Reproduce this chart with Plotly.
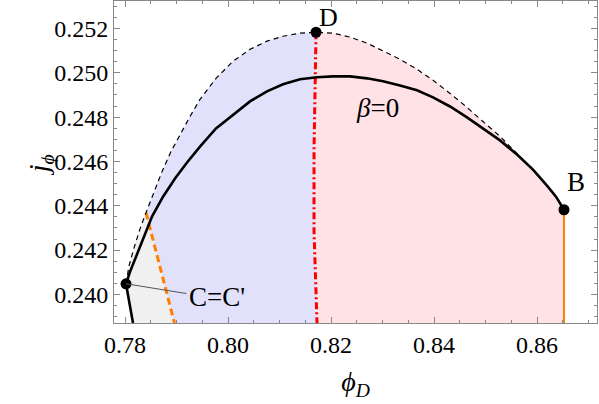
import plotly.graph_objects as go

# beta = 0 curve (solid)
beta0_x = [0.78155, 0.78019, 0.78097, 0.78291, 0.78524, 0.78738, 0.78971, 0.79204,
           0.79456, 0.79767, 0.80097, 0.80427, 0.80757, 0.81068, 0.81398, 0.81728,
           0.82039, 0.82369, 0.82699, 0.83010, 0.83340, 0.83670, 0.83981, 0.84311,
           0.84641, 0.84951, 0.85282, 0.85612, 0.85922, 0.86194, 0.86369, 0.86524]
beta0_y = [0.23871, 0.24048, 0.24102, 0.24215, 0.24351, 0.24441, 0.24523, 0.24595,
           0.24667, 0.24749, 0.24812, 0.24871, 0.24916, 0.24948, 0.24971, 0.24980,
           0.24984, 0.24984, 0.24975, 0.24962, 0.24943, 0.24921, 0.24889, 0.24848,
           0.24799, 0.24749, 0.24695, 0.24631, 0.24563, 0.24491, 0.24441, 0.24382]

# upper envelope (thin dashed)
env_x = [0.78019, 0.78078, 0.78175, 0.78291, 0.78408, 0.78563, 0.78718, 0.78893,
         0.79068, 0.79262, 0.79456, 0.79767, 0.80097, 0.80427, 0.80757, 0.81068,
         0.81398, 0.81709, 0.82039, 0.82369, 0.82699, 0.83087, 0.83340, 0.83670,
         0.83981, 0.84311, 0.84641, 0.84951, 0.85282, 0.85534, 0.85709]
env_y = [0.24048, 0.24129, 0.24210, 0.24296, 0.24369, 0.24464, 0.24554, 0.24645,
         0.24722, 0.24803, 0.24880, 0.24975, 0.25052, 0.25106, 0.25143, 0.25165,
         0.25179, 0.25183, 0.25179, 0.25161, 0.25134, 0.25088, 0.25061, 0.25016,
         0.24966, 0.24907, 0.24844, 0.24780, 0.24713, 0.24654, 0.24613]

# orange dashed boundary
orange_x = [0.78408, 0.78960]
orange_y = [0.24369, 0.23871]

# red dash-dot boundary
red_x = [0.81709, 0.81670, 0.81670, 0.81728]
red_y = [0.25183, 0.24649, 0.24287, 0.23871]

# vertical line below B
bline_x = [0.86524, 0.86524]
bline_y = [0.24382, 0.23871]

pts_x = [0.78019, 0.81709, 0.86524]   # C, D, B
pts_y = [0.24048, 0.25183, 0.24382]

xtick_vals = [0.78, 0.80, 0.82, 0.84, 0.86]
ytick_vals = [0.240, 0.242, 0.244, 0.246, 0.248, 0.250, 0.252]

FONT = "Liberation Serif"
BLUE_FILL = "#e1e1fb"
PINK_FILL = "#ffe2e5"
GRAY_FILL = "#f0f0f0"
ORANGE = "#ff8000"
RED = "#ff0000"

fig = go.Figure()

# --- filled regions ---------------------------------------------------------
i_top = env_x.index(orange_x[0])
i_d = env_x.index(red_x[0])
n_solid_below_c = 2  # bottom point and C

gray_x = beta0_x[:n_solid_below_c] + env_x[1:i_top + 1] + orange_x[1:]
gray_y = beta0_y[:n_solid_below_c] + env_y[1:i_top + 1] + orange_y[1:]

blue_x = env_x[i_top:i_d + 1] + red_x[1:] + orange_x[::-1]
blue_y = env_y[i_top:i_d + 1] + red_y[1:] + orange_y[::-1]

tail = [k for k, v in enumerate(beta0_x) if v > env_x[-1]]
pink_x = env_x[i_d:] + [beta0_x[k] for k in tail] + bline_x[1:] + red_x[::-1]
pink_y = env_y[i_d:] + [beta0_y[k] for k in tail] + bline_y[1:] + red_y[::-1]

for fx, fy, col in [(gray_x, gray_y, GRAY_FILL), (blue_x, blue_y, BLUE_FILL),
                    (pink_x, pink_y, PINK_FILL)]:
    fig.add_trace(go.Scatter(x=fx, y=fy, mode="lines", fill="toself",
                             fillcolor=col, line=dict(width=0), hoverinfo="skip"))

# --- lines ------------------------------------------------------------------
fig.add_trace(go.Scatter(x=orange_x, y=orange_y, mode="lines",
                         line=dict(color=ORANGE, width=3, dash="7px,4px")))
fig.add_trace(go.Scatter(x=red_x, y=red_y, mode="lines",
                         line=dict(color=RED, width=3, dash="7px,3px,2px,3px")))
fig.add_trace(go.Scatter(x=bline_x, y=bline_y, mode="lines",
                         line=dict(color=ORANGE, width=2)))
fig.add_trace(go.Scatter(x=env_x, y=env_y, mode="lines",
                         line=dict(color="black", width=1.2, dash="5px,4px")))
fig.add_trace(go.Scatter(x=beta0_x, y=beta0_y, mode="lines",
                         line=dict(color="black", width=2.6)))

# callout for C=C'
fig.add_shape(type="line", x0=pts_x[0], y0=pts_y[0], x1=0.79190, y1=0.24004,
              line=dict(color="#555555", width=1))

fig.add_trace(go.Scatter(x=pts_x, y=pts_y, mode="markers",
                         marker=dict(color="black", size=11)))

txt = dict(family=FONT, size=27, color="black")
fig.add_annotation(x=pts_x[1], y=pts_y[1], text="D", showarrow=False,
                   xanchor="left", yanchor="middle", xshift=2, yshift=15,
                   borderpad=0, font=dict(family=FONT, size=26, color="black"))
fig.add_annotation(x=pts_x[2], y=pts_y[2], text="B", showarrow=False,
                   xanchor="center", yanchor="bottom", xshift=12, yshift=11, font=txt)
fig.add_annotation(x=0.8291, y=0.24839, text="<i>β</i>=0", showarrow=False,
                   font=txt)
fig.add_annotation(x=0.7920, y=0.23990, text="C=C'", showarrow=False,
                   xanchor="left", font=txt)

# y-axis title placed by hand (Mathematica puts it close to the labels)
fig.add_annotation(xref="paper", yref="paper", x=-0.153, y=0.49,
                   text="<i>j</i><sub><i>ϕ</i></sub>", textangle=-90,
                   showarrow=False, xanchor="center", yanchor="middle",
                   font=dict(family=FONT, size=28, color="black"))

axis_common = dict(
    showline=True, linecolor="#888888", linewidth=1, mirror="ticks",
    ticks="inside", ticklen=6, tickcolor="#888888", tickwidth=1,
    showgrid=False, zeroline=False,
    tickfont=dict(family=FONT, size=24, color="black"),
)

fig.update_xaxes(range=[0.77786, 0.87165], tickvals=xtick_vals,
                 ticktext=[f"{v:.2f}" for v in xtick_vals],
                 minor=dict(ticks="inside", ticklen=3, dtick=0.005, tick0=0.78,
                            tickcolor="#888888"),
                 title=dict(text="<i>ϕ</i><sub><i>D</i></sub>",
                            font=dict(family=FONT, size=28, color="black"),
                            standoff=14),
                 **axis_common)
fig.update_yaxes(range=[0.23871, 0.25324], tickvals=ytick_vals,
                 ticktext=[f"{v:.3f}" for v in ytick_vals],
                 minor=dict(ticks="inside", ticklen=3, dtick=0.0005, tick0=0.240,
                            tickcolor="#888888"),
                 **axis_common)

fig.update_layout(width=599, height=404, showlegend=False,
                  plot_bgcolor="white", paper_bgcolor="white",
                  margin=dict(l=114, r=2, t=1, b=81))

fig.write_html("out.html", config={"displayModeBar": False},
               post_script="document.body.style.margin='0';")
